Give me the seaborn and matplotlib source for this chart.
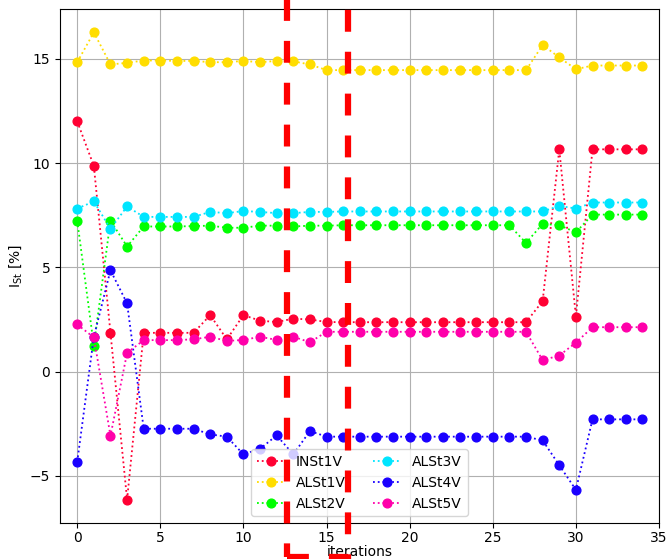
import numpy as np
import matplotlib
matplotlib.use("Agg")
import matplotlib.pyplot as plt
import seaborn as sns
from matplotlib.patches import Rectangle

# data
iterations = np.arange(35)

inst1v = [12.0, 9.86, 1.86, -6.14, 1.86, 1.86, 1.86, 1.86, 2.71, 1.55,
          2.71, 2.44, 2.38, 2.54, 2.5, 2.38, 2.37, 2.37, 2.37, 2.37,
          2.37, 2.37, 2.37, 2.37, 2.37, 2.37, 2.37, 2.37, 3.38, 10.66,
          2.64, 10.66, 10.66, 10.66, 10.66]
alst1v = [14.84, 16.27, 14.73, 14.81, 14.92, 14.92, 14.9, 14.9, 14.84, 14.84,
          14.9, 14.84, 14.9, 14.88, 14.73, 14.46, 14.46, 14.46, 14.46, 14.46,
          14.46, 14.46, 14.46, 14.46, 14.46, 14.46, 14.46, 14.46, 15.66, 15.07,
          14.5, 14.68, 14.68, 14.68, 14.68]
alst2v = [7.24, 1.24, 7.24, 6.0, 6.96, 6.96, 6.96, 6.98, 7.0, 6.9,
          6.9, 7.0, 7.0, 6.96, 7.0, 7.0, 7.02, 7.02, 7.02, 7.02,
          7.02, 7.02, 7.02, 7.02, 7.02, 7.02, 7.02, 6.17, 7.09, 7.02,
          6.68, 7.53, 7.53, 7.53, 7.53]
alst3v = [7.82, 8.16, 6.85, 7.92, 7.42, 7.42, 7.42, 7.42, 7.66, 7.6,
          7.7, 7.66, 7.6, 7.6, 7.66, 7.66, 7.68, 7.68, 7.68, 7.68,
          7.68, 7.68, 7.68, 7.68, 7.68, 7.68, 7.68, 7.68, 7.68, 7.95,
          7.82, 8.11, 8.11, 8.11, 8.11]
alst4v = [-4.33, 1.67, 4.86, 3.27, -2.74, -2.74, -2.74, -2.74, -3.01, -3.12,
          -3.97, -3.7, -3.06, -3.97, -2.85, -3.12, -3.12, -3.12, -3.12, -3.12,
          -3.12, -3.12, -3.12, -3.12, -3.12, -3.12, -3.12, -3.12, -3.3, -4.49,
          -5.67, -2.29, -2.29, -2.29, -2.29]
alst5v = [2.26, 1.64, -3.08, 0.9, 1.51, 1.51, 1.51, 1.55, 1.67, 1.47,
          1.52, 1.67, 1.52, 1.67, 1.41, 1.91, 1.91, 1.91, 1.91, 1.91,
          1.91, 1.91, 1.91, 1.91, 1.91, 1.91, 1.91, 1.91, 0.55, 0.77,
          1.39, 2.13, 2.13, 2.13, 2.13]

series_names = ["INSt1V", "ALSt1V", "ALSt2V", "ALSt3V", "ALSt4V", "ALSt5V"]
series_values = [inst1v, alst1v, alst2v, alst3v, alst4v, alst5v]
colors = ["#ff0033", "#ffdd00", "#00ff00", "#00e5ff", "#1a00ff", "#ff00aa"]

fig = plt.figure(figsize=(6.66, 5.59), dpi=100)
ax = fig.add_axes([0.090, 0.0644, 0.8995, 0.9195])

for name, vals, c in zip(series_names, series_values, colors):
    sns.lineplot(x=iterations, y=vals, ax=ax, color=c, label=name,
                 linestyle=":", marker="o", markersize=6.3,
                 markeredgecolor=c, markeredgewidth=1.0, linewidth=1.3)

ax.set_xlim(-1.04, 35)
ax.grid(True, color="#b0b0b0", linewidth=0.8)
ax.tick_params(axis="x", pad=2.5)
ax.set_xlabel("iterations", labelpad=0)
ax.set_ylabel(r"$\mathrm{I_{St}}$ [%]")
ax.legend(loc="lower center", ncol=2)

# red dashed highlight box drawn over the figure
fig.patches.append(Rectangle((287 / 666, 2 / 559), (348 - 287) / 666, 1.2,
                             transform=fig.transFigure, fill=False,
                             edgecolor="red", linewidth=4.5,
                             linestyle=(0, (3.5, 3.2)), clip_on=False,
                             zorder=10))

fig.savefig("out.png", dpi=100)
